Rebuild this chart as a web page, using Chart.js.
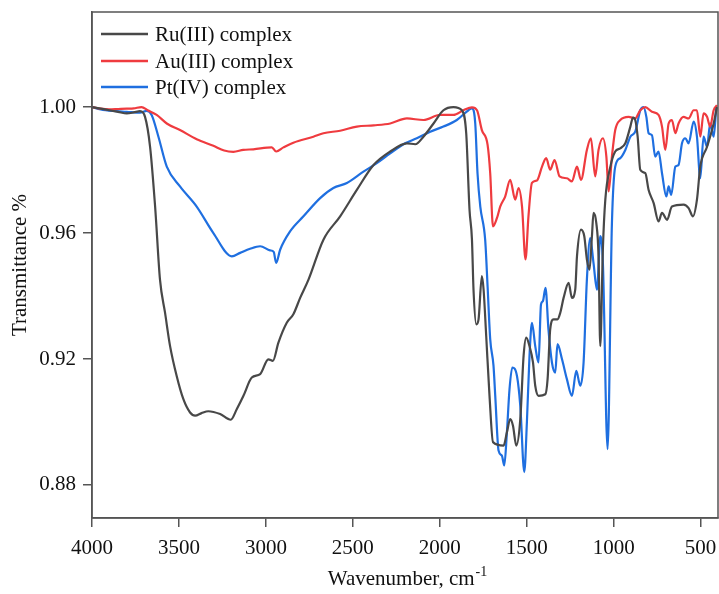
<!DOCTYPE html>
<html>
<head>
<meta charset="utf-8">
<script src="https://cdn.jsdelivr.net/npm/chart.js@4.4.1/dist/chart.umd.min.js"></script>
<style>
html,body{margin:0;padding:0;background:#fff;}
#wrap{width:719px;height:594px;}
</style>
</head>
<body>
<div id="wrap"><canvas id="c" width="719" height="594"></canvas></div>
<script>
const seriesNames = ["Ru(III) complex", "Au(III) complex", "Pt(IV) complex"];
const seriesColors = ["#484848", "#ef3b3f", "#1f6fe0"];
const xTickValues = [4000, 3500, 3000, 2500, 2000, 1500, 1000, 500];
const yTickValues = [0.88, 0.92, 0.96, 1.00];

const ruWn = [4000,3950,3900,3850,3800,3760,3724,3695,3666,3637,3609,3580,3551,3513,3475,3436,3407,3370,3331,3263,3202,3167,3129,3081,3033,2986,2960,2928,2880,2842,2803,2755,2669,2573,2477,2381,2285,2189,2141,2094,2036,1979,1921,1873,1848,1829,1815,1806,1790,1777,1758,1748,1733,1714,1694,1633,1614,1595,1579,1560,1537,1518,1503,1484,1464,1451,1432,1393,1380,1365,1346,1323,1307,1288,1259,1240,1221,1211,1188,1169,1154,1139,1125,1116,1100,1087,1077,1062,1048,1019,991,962,933,904,889,876,862,847,818,799,770,742,722,693,665,598,569,544,521,502,463,425,406];
const ruT = [1.000,0.9995,0.9990,0.9985,0.9980,0.9983,0.9987,0.9969,0.9874,0.9684,0.9452,0.9347,0.9241,0.9146,0.9073,0.9030,0.9020,0.9028,0.9034,0.9025,0.9007,0.9041,0.9083,0.9141,0.9152,0.9199,0.9194,0.9252,0.9315,0.9342,0.9394,0.9452,0.9579,0.9653,0.9737,0.9816,0.9859,0.9885,0.9882,0.9906,0.9948,0.9990,1.000,0.9990,0.9917,0.9674,0.958,0.942,0.931,0.9326,0.9463,0.942,0.9273,0.9083,0.8936,0.8925,0.8967,0.9009,0.8988,0.8925,0.9009,0.9210,0.9268,0.9241,0.9189,0.9115,0.9083,0.9088,0.9136,0.9294,0.9326,0.9326,0.9347,0.9394,0.9442,0.9394,0.942,0.9526,0.9611,0.959,0.9516,0.9484,0.959,0.9664,0.9632,0.9526,0.9241,0.955,0.9706,0.9811,0.9859,0.9869,0.9885,0.9938,0.9967,0.9959,0.9906,0.9801,0.979,0.9737,0.9695,0.9637,0.9664,0.9642,0.9684,0.969,0.9679,0.9653,0.9706,0.9811,0.9874,0.9948,1.000];

const auWn = [4000,3950,3900,3850,3800,3760,3715,3680,3628,3570,3494,3398,3302,3240,3187,3130,3072,2966,2941,2899,2842,2727,2669,2573,2477,2380,2285,2189,2094,1998,1921,1864,1815,1786,1758,1725,1710,1694,1671,1652,1624,1595,1566,1547,1527,1507,1490,1470,1441,1412,1388,1365,1340,1311,1269,1240,1211,1188,1154,1131,1106,1087,1062,1042,1029,1010,991,962,914,876,847,818,780,742,722,703,684,665,645,627,598,569,540,521,502,483,463,445,425,406];
const auT = [1.000,0.9995,0.9993,0.9994,0.9995,0.9996,1.000,0.9990,0.9975,0.9948,0.9927,0.9898,0.9877,0.9862,0.9858,0.9864,0.9866,0.9872,0.9859,0.9872,0.9887,0.9906,0.9917,0.9925,0.9938,0.9942,0.9948,0.9964,0.9959,0.9975,0.9975,0.9990,0.9999,0.9990,0.9927,0.988,0.979,0.9621,0.9648,0.9685,0.9716,0.9769,0.9706,0.9743,0.9684,0.9516,0.9653,0.9759,0.9767,0.9811,0.9838,0.9801,0.9832,0.978,0.9774,0.9764,0.9811,0.9769,0.9864,0.9901,0.978,0.9864,0.9901,0.9843,0.9732,0.9843,0.9927,0.9959,0.9969,0.9964,0.999,1.000,0.9985,0.9975,0.9938,0.9864,0.9948,0.9959,0.9917,0.9948,0.9969,0.9964,0.999,0.999,0.9906,0.998,0.9969,0.9938,0.999,1.0006];

const ptWn = [4000,3950,3879,3800,3724,3685,3657,3618,3570,3494,3398,3302,3196,3148,3091,3033,2976,2955,2941,2918,2861,2784,2688,2612,2534,2439,2362,2285,2199,2132,2055,1979,1902,1835,1815,1796,1783,1767,1739,1725,1710,1691,1681,1662,1643,1629,1614,1599,1583,1556,1537,1514,1499,1484,1470,1451,1432,1418,1407,1392,1375,1355,1336,1323,1297,1269,1240,1215,1192,1173,1154,1135,1116,1096,1077,1062,1035,1010,991,962,933,904,876,847,828,812,799,780,761,742,722,697,684,669,645,627,607,588,569,540,521,502,483,463,445,425,410];
const ptT = [1.000,0.9993,0.9988,0.9985,0.9982,0.9988,0.9975,0.9906,0.9811,0.9748,0.9684,0.9600,0.9526,0.9537,0.9550,0.9558,0.9545,0.9540,0.9505,0.9547,0.9605,0.9653,0.9711,0.9743,0.9759,0.9795,0.9822,0.9853,0.9885,0.9901,0.9922,0.9938,0.9959,0.9990,0.9996,0.9948,0.979,0.9684,0.9579,0.9430,0.9263,0.9178,0.9083,0.8909,0.8893,0.8862,0.8967,0.9104,0.9173,0.9146,0.9051,0.8841,0.8999,0.921,0.9315,0.9241,0.9189,0.9373,0.9384,0.9426,0.9294,0.9189,0.9157,0.9247,0.9199,0.9136,0.9083,0.9162,0.9115,0.9189,0.9452,0.9584,0.9505,0.942,0.959,0.9505,0.8914,0.9632,0.9811,0.9838,0.9864,0.9906,0.9922,0.999,1.000,0.9969,0.9917,0.9911,0.9843,0.9859,0.979,0.9716,0.9748,0.9721,0.9811,0.9816,0.9885,0.9901,0.9885,0.9954,0.9906,0.9774,0.9906,0.9874,0.9948,0.9906,1.000];

const FONT = "'Liberation Serif', 'Times New Roman', serif";
const pairs = (xs, ys) => xs.map((x, i) => ({x: x, y: ys[i]}));
const allWn = [ruWn, auWn, ptWn];
const allT = [ruT, auT, ptT];

const datasets = seriesNames.map((name, i) => ({
  label: name,
  data: pairs(allWn[i], allT[i]),
  borderColor: seriesColors[i],
  borderWidth: 2.2,
  pointRadius: 0,
  fill: false,
  cubicInterpolationMode: 'monotone'
}));

const decorPlugin = {
  id: 'decor',
  afterDraw(chart) {
    const ctx = chart.ctx;
    const a = chart.chartArea;
    ctx.save();
    ctx.strokeStyle = '#555';
    ctx.lineWidth = 1.5;
    ctx.strokeRect(a.left, a.top, a.right - a.left, a.bottom - a.top);
    ctx.font = "21px " + FONT;
    ctx.textBaseline = 'middle';
    ctx.textAlign = 'left';
    const ys = [34, 61, 87];
    chart.data.datasets.forEach((ds, i) => {
      ctx.strokeStyle = ds.borderColor;
      ctx.lineWidth = 2.5;
      ctx.beginPath();
      ctx.moveTo(101, ys[i]);
      ctx.lineTo(148, ys[i]);
      ctx.stroke();
      ctx.fillStyle = '#111';
      ctx.fillText(ds.label, 155, ys[i] + 1);
    });
    ctx.save();
    ctx.translate(20, (a.top + a.bottom) / 2);
    ctx.rotate(-Math.PI / 2);
    ctx.textAlign = 'center';
    ctx.textBaseline = 'middle';
    ctx.fillStyle = '#111';
    ctx.font = "21px " + FONT;
    ctx.fillText("Transmittance %", 0, 0);
    ctx.restore();
    const main = "Wavenumber, cm";
    const sup = "-1";
    ctx.font = "21px " + FONT;
    const w1 = ctx.measureText(main).width;
    ctx.font = "14px " + FONT;
    const w2 = ctx.measureText(sup).width;
    const cx = (a.left + a.right) / 2 + 2;
    const x0 = cx - (w1 + w2) / 2;
    const base = 585;
    ctx.textAlign = 'left';
    ctx.textBaseline = 'alphabetic';
    ctx.fillStyle = '#111';
    ctx.font = "21px " + FONT;
    ctx.fillText(main, x0, base);
    ctx.font = "14px " + FONT;
    ctx.fillText(sup, x0 + w1 + 1, base - 9);
    ctx.restore();
  }
};

new Chart(document.getElementById('c'), {
  type: 'line',
  data: { datasets: datasets },
  options: {
    responsive: false,
    animation: false,
    layout: { padding: { top: 12, right: 1, left: 0, bottom: 0 } },
    plugins: { legend: { display: false }, tooltip: { enabled: false } },
    scales: {
      x: {
        type: 'linear',
        min: 400,
        max: 4000,
        reverse: true,
        afterBuildTicks: s => { s.ticks = xTickValues.map(v => ({ value: v })); },
        afterFit: s => { s.height = 76; s.paddingLeft = 0; s.paddingRight = 0; },
        grid: { drawOnChartArea: false, drawTicks: true, tickLength: 9, color: '#555', lineWidth: 1.5 },
        border: { display: true, color: '#555', width: 1.5 },
        ticks: { color: '#111', font: { family: FONT, size: 21 }, padding: 9, maxRotation: 0, autoSkip: false, callback: v => String(v) }
      },
      y: {
        type: 'linear',
        min: 0.8695,
        max: 1.0302,
        afterBuildTicks: s => { s.ticks = yTickValues.map(v => ({ value: v })); },
        afterFit: s => { s.width = 92; s.paddingTop = 0; s.paddingBottom = 0; },
        grid: { drawOnChartArea: false, drawTicks: true, tickLength: 9, color: '#555', lineWidth: 1.5 },
        border: { display: true, color: '#555', width: 1.5 },
        ticks: { color: '#111', font: { family: FONT, size: 21 }, padding: 7, autoSkip: false, callback: v => v.toFixed(2) }
      }
    }
  },
  plugins: [decorPlugin]
});
</script>
</body>
</html>
